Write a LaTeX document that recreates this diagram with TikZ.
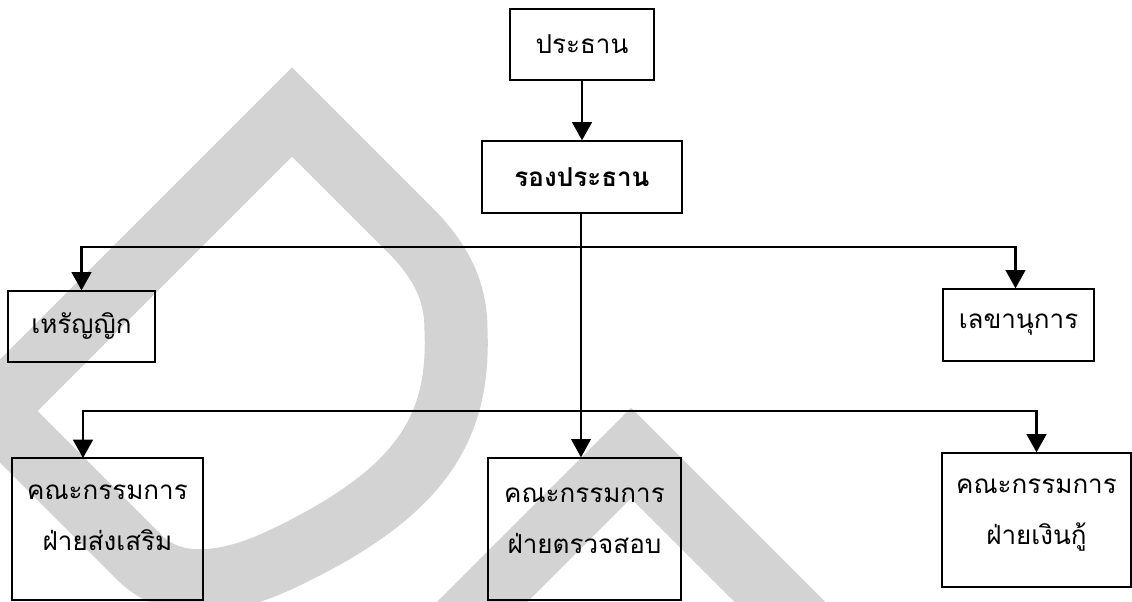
\documentclass[tikz,border=0pt]{standalone}
\usepackage{fontspec}
\setmainfont[Script=Thai]{Loma}
\usetikzlibrary{arrows.meta}
\definecolor{wmgray}{RGB}{211,211,211}
\tikzset{
  orgbox/.style={draw, line width=0.9pt, inner sep=0pt, align=center, font=\fontsize{18.5}{36}\selectfont},
  orgarrow/.style={line width=1.7pt, -{Triangle[width=14pt,length=13pt]}}
}
\begin{document}
\begin{tikzpicture}[x=0.025cm, y=-0.025cm]
  \useasboundingbox (0,0) rectangle (1132,601);
  % watermark
  \begin{scope}
    \clip (0,0) rectangle (1132,601);
    \draw[wmgray, line width=1.575cm, line join=miter]
      (292,112) -- (-7,411) -- (140,558)
      .. controls (170,588) and (220,588) .. (280,560)
      .. controls (420,494) and (460,430) .. (456,330)
      .. controls (456,290) and (440,262) .. (415,235) -- cycle;
    \draw[wmgray, line width=1.6cm, line join=miter]
      (400,684) -- (631,453) -- (862,684);
  \end{scope}
  % boxes
  \node[orgbox, minimum width=3.6cm, minimum height=1.775cm] (pres) at (582,44.5) {ประธาน};
  \node[orgbox, minimum width=5cm, minimum height=1.8cm] (vice) at (582,177) {\bfseries รองประธาน};
  \node[orgbox, minimum width=3.675cm, minimum height=1.775cm] (treas) at (81.5,326.5) {เหรัญญิก};
  \node[orgbox, minimum width=3.775cm, minimum height=1.8cm] (secr) at (1018.5,325) {เลขานุการ};
  \node[orgbox, minimum width=4.775cm, minimum height=3.55cm, text depth=16pt] (promo) at (107.5,529) {คณะกรรมการ\\ฝ่ายส่งเสริม};
  \node[orgbox, minimum width=4.825cm, minimum height=3.55cm, text depth=12pt] (audit) at (584.5,529) {คณะกรรมการ\\ฝ่ายตรวจสอบ};
  \node[orgbox, minimum width=4.725cm, minimum height=3.35cm, text depth=12pt] (loan) at (1036.5,520) {คณะกรรมการ\\ฝ่ายเงินกู้};
  % connectors
  \coordinate (bar1) at (581,247);
  \coordinate (bar2) at (581,411);
  \coordinate (promotop) at (83,458);
  \draw[orgarrow] (pres.south) -- (vice.north);
  \draw[line width=0.9pt, -{Triangle[width=14pt,length=13pt]}] (vice.south -| bar1) -- (bar1 |- audit.north);
  \draw[orgarrow] (bar1) -| (treas.north);
  \draw[orgarrow] (bar1) -| ([xshift=-0.075cm]secr.north);
  \draw[orgarrow] (bar2) -| (promotop);
  \draw[orgarrow] (bar2) -| (loan.north);
\end{tikzpicture}
\end{document}
